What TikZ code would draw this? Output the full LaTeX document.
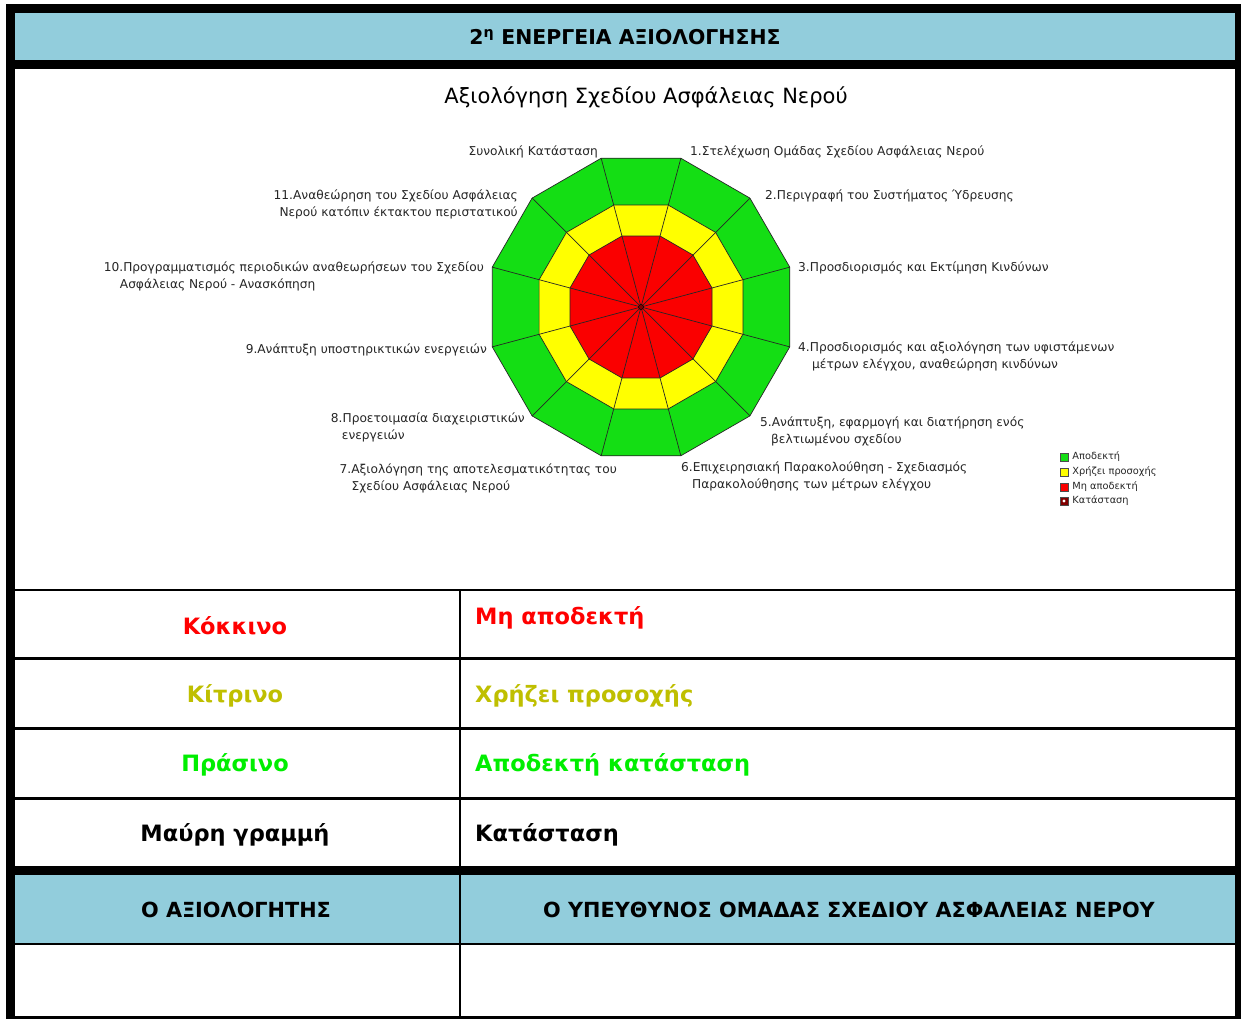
\documentclass[tikz,border=0pt]{standalone}
\usepackage{fontspec}
\setmainfont{DejaVu Sans}
\usetikzlibrary{shapes.geometric, calc, positioning}

\definecolor{headblue}{RGB}{146,205,220}
\definecolor{chartgreen}{RGB}{20,222,20}
\definecolor{chartyellow}{RGB}{255,255,0}
\definecolor{chartred}{RGB}{250,0,0}
\definecolor{textolive}{RGB}{191,191,0}
\definecolor{textgreen}{RGB}{0,238,0}
\definecolor{markred}{RGB}{128,0,0}

\tikzset{
  ring/.style = {draw=black!85, line width=0.7pt, regular polygon, regular polygon sides=12, inner sep=0pt, outer sep=0pt},
  axislabel/.style = {font=\fontsize{12.2}{16.8}\selectfont, inner sep=0pt, align=left, text=black!85},
  cellword/.style = {font=\bfseries\fontsize{22.5}{27}\selectfont, inner sep=0pt},
  headword/.style = {font=\bfseries\fontsize{20.8}{24}\selectfont, inner sep=0pt},
  keybox/.style = {draw=black!70, line width=0.4pt, minimum size=8pt, inner sep=0pt},
  keyword/.style = {font=\fontsize{9.8}{11}\selectfont, inner sep=0pt, text=black!85},
}

\begin{document}
\begin{tikzpicture}[x=1pt, y=-1pt]%{{{
  \useasboundingbox (0,0) rectangle (1241,1019);

  % frame and cells
  \fill[black] (6,4) rectangle (1245,1023);
  \fill[headblue] (15,13) rectangle (1235,60);
  \fill[white] (15,69) rectangle (1235,589);
  \foreach \top/\bot in {591/657, 660/727, 730/797, 800/866} {
    \fill[white] (15,\top) rectangle (459,\bot);
    \fill[white] (461,\top) rectangle (1235,\bot);
  }
  \fill[headblue] (15,875) rectangle (459,943);
  \fill[headblue] (461,875) rectangle (1235,943);
  \fill[white] (15,945) rectangle (459,1016);
  \fill[white] (461,945) rectangle (1235,1016);

  \node (title) [headword, font=\bfseries\fontsize{20.4}{24}\selectfont] at (625,37) {2\textsuperscript{η} ΕΝΕΡΓΕΙΑ ΑΞΙΟΛΟΓΗΣΗΣ};
  \node (charttitle) [font=\fontsize{21}{25}\selectfont, inner sep=0pt] at (646,97) {Αξιολόγηση Σχεδίου Ασφάλειας Νερού};

  % radar
  \coordinate (ctr) at (641,307);
  \node (outer) [ring, fill=chartgreen, minimum size=308] at (ctr) {};
  \node (middle) [ring, fill=chartyellow, minimum size=211] at (ctr) {};
  \node (inner) [ring, fill=chartred, minimum size=147] at (ctr) {};
  \foreach \k in {1,...,12}
    \draw[black!85, line width=0.7pt] (ctr) -- (outer.corner \k);
  \node (status) [circle, fill=markred, draw=black, line width=0.5pt, inner sep=0pt, minimum size=5pt] at (ctr) {};

  \node (total) [axislabel, anchor=east] at (598,152) {Συνολική Κατάσταση};
  \node (ax1) [axislabel, anchor=west] at (690,152) {1.Στελέχωση Ομάδας Σχεδίου Ασφάλειας Νερού};
  \node (ax2) [axislabel, anchor=west] at (765,196) {2.Περιγραφή του Συστήματος Ύδρευσης};
  \node (ax3) [axislabel, anchor=west] at (798,268) {3.Προσδιορισμός και Εκτίμηση Κινδύνων};
  \node (ax4) [axislabel, anchor=north west] at (798,342) {4.Προσδιορισμός και αξιολόγηση των υφιστάμενων\\\hspace{14pt}μέτρων ελέγχου, αναθεώρηση κινδύνων};
  \node (ax5) [axislabel, anchor=north west] at (760,417) {5.Ανάπτυξη, εφαρμογή και διατήρηση ενός\\\hspace{11pt}βελτιωμένου σχεδίου};
  \node (ax6) [axislabel, anchor=north west] at (681,462) {6.Επιχειρησιακή Παρακολούθηση - Σχεδιασμός\\\hspace{11pt}Παρακολούθησης των μέτρων ελέγχου};
  \node (ax7) [axislabel, anchor=north east] at (617,464) {7.Αξιολόγηση της αποτελεσματικότητας του\\\hspace{12pt}Σχεδίου Ασφάλειας Νερού};
  \node (ax8) [axislabel, anchor=north east] at (525,413) {8.Προετοιμασία διαχειριστικών\\\hspace{11pt}ενεργειών};
  \node (ax9) [axislabel, anchor=east] at (487,350) {9.Ανάπτυξη υποστηρικτικών ενεργειών};
  \node (ax10) [axislabel, anchor=north east] at (484,262) {10.Προγραμματισμός περιοδικών αναθεωρήσεων του Σχεδίου\\\hspace{16pt}Ασφάλειας Νερού - Ανασκόπηση};
  \node (ax11) [axislabel, align=right, anchor=north east] at (518,190) {11.Αναθεώρηση του Σχεδίου Ασφάλειας\\Νερού κατόπιν έκτακτου περιστατικού};

  % legend
  \node (keyok) [keybox, fill=chartgreen] at (1064,457) {};
  \node (keywarn) [keybox, fill=chartyellow] at (1064,472) {};
  \node (keybad) [keybox, fill=chartred] at (1064,487) {};
  \node (keystate) [keybox, fill=markred] at (1064,501) {};
  \fill[white] (keystate) circle (1.6pt);
  \node (keyoktext) [keyword, right=4pt of keyok] {Αποδεκτή};
  \node (keywarntext) [keyword, right=4pt of keywarn] {Χρήζει προσοχής};
  \node (keybadtext) [keyword, right=4pt of keybad] {Μη αποδεκτή};
  \node (keystatetext) [keyword, right=4pt of keystate] {Κατάσταση};

  % table
  \node (red) [cellword, text=red] at (235,626) {Κόκκινο};
  \node (redmeaning) [cellword, text=red, anchor=west] at (475,618) {Μη αποδεκτή};
  \node (yellow) [cellword, text=textolive] at (235,696) {Κίτρινο};
  \node (yellowmeaning) [cellword, text=textolive, anchor=west] at (475,696) {Χρήζει προσοχής};
  \node (green) [cellword, text=textgreen] at (235,765) {Πράσινο};
  \node (greenmeaning) [cellword, text=textgreen, anchor=west] at (475,765) {Αποδεκτή κατάσταση};
  \node (black) [cellword] at (235,835) {Μαύρη γραμμή};
  \node (blackmeaning) [cellword, anchor=west] at (475,835) {Κατάσταση};

  \node (assessor) [headword] at (236,910) {Ο ΑΞΙΟΛΟΓΗΤΗΣ};
  \node (teamlead) [headword] at (849,910) {Ο ΥΠΕΥΘΥΝΟΣ ΟΜΑΔΑΣ ΣΧΕΔΙΟΥ ΑΣΦΑΛΕΙΑΣ ΝΕΡΟΥ};
\end{tikzpicture}%}}}
\end{document}
